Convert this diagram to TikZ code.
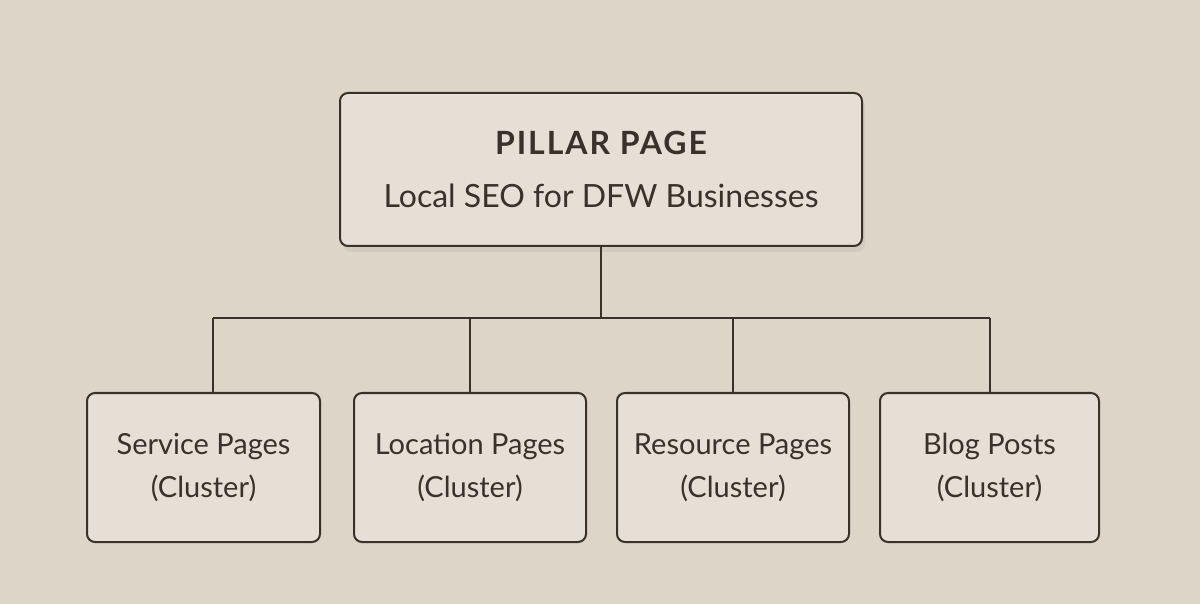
\documentclass[tikz,border=0pt]{standalone}
\usepackage{fontspec}
\setmainfont{Lato}
\usepackage{xcolor}
\usepackage{tikz}
\usetikzlibrary{positioning, calc, shadows}

\definecolor{paper}{RGB}{221,213,199}
\definecolor{card}{RGB}{229,223,213}
\definecolor{ink}{RGB}{58,50,42}

\begin{document}
\begin{tikzpicture}[x=0.5pt, y=-0.5pt]

  %% Background sheet
  \fill[paper] (0,0) rectangle (1200,604);
  \useasboundingbox (0,0) rectangle (1200,604);

  \tikzset{
    card/.style={draw=ink, line width=1pt, fill=card, rounded corners=4pt,
      align=center, text=ink, font=\fontsize{14.5}{21.5}\selectfont,
      inner sep=0pt},
    pillarcard/.style={card, minimum width=261pt, minimum height=76.5pt,
      font=\fontsize{16}{21.5}\selectfont,
      drop shadow={opacity=0.12, shadow xshift=1.5pt, shadow yshift=-3pt}},
    clustercard/.style={card, minimum height=74.5pt},
    link/.style={draw=ink, line width=1pt}
  }

  %% Pillar page
  \node[pillarcard] (pillar) at (601,169.5)
    {{\addfontfeatures{LetterSpace=6}\bfseries PILLAR PAGE}\\[5pt]
     Local SEO for DFW Businesses};

  %% Cluster pages
  \node[clustercard, minimum width=116.5pt] (svc)  at (203.5,467.5) {Service Pages\\(Cluster)};
  \node[clustercard, minimum width=116pt]   (loc)  at (470,467.5)   {Location Pages\\(Cluster)};
  \node[clustercard, minimum width=116pt]   (res)  at (733,467.5)   {Resource Pages\\(Cluster)};
  \node[clustercard, minimum width=109.5pt] (blog) at (989.5,467.5) {Blog Posts\\(Cluster)};

  %% Connectors
  \coordinate (hub) at (601,318);
  \coordinate (d1) at (213,318);
  \coordinate (d2) at (470,318);
  \coordinate (d3) at (733,318);
  \coordinate (d4) at (989.5,318);

  \draw[link] (pillar.south) -- (hub);
  \draw[link] (d1) -- (d4);
  \draw[link] (d1) -- (d1 |- svc.north);
  \draw[link] (d2) -- (loc.north);
  \draw[link] (d3) -- (res.north);
  \draw[link] (d4) -- (blog.north);

\end{tikzpicture}
\end{document}
